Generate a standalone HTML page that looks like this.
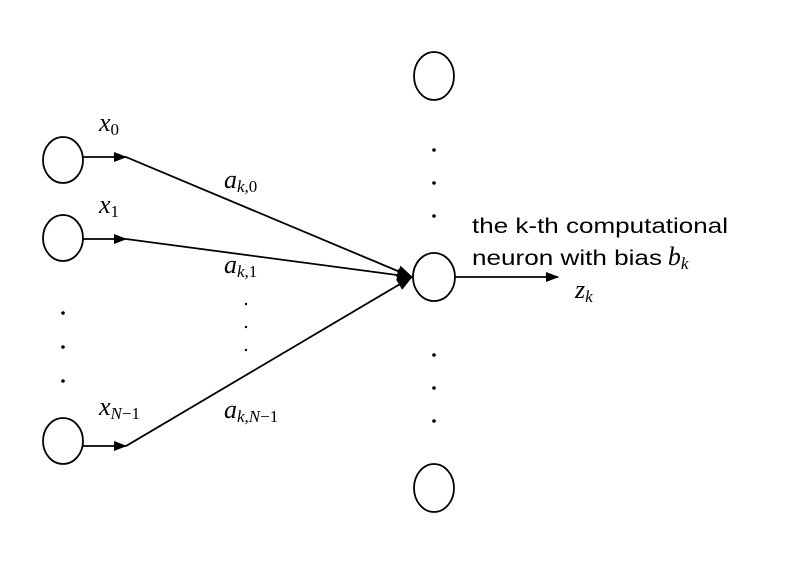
<!DOCTYPE html>
<html><head><style>body{margin:0;background:#fff}</style></head><body>
<svg width="785" height="557" viewBox="0 0 785 557" xmlns="http://www.w3.org/2000/svg">
<defs><marker id="ah" markerWidth="13" markerHeight="10" refX="12" refY="5" orient="auto" markerUnits="userSpaceOnUse"><path d="M0,0L13,5L0,10z" fill="#000"/></marker>
<marker id="ah2" markerWidth="16" markerHeight="12" refX="15" refY="6" orient="auto" markerUnits="userSpaceOnUse"><path d="M0,0L16,6L0,12z" fill="#000"/></marker></defs>
<g fill="none" stroke="#000" stroke-width="1.8">
<ellipse cx="63" cy="160" rx="20" ry="23"/>
<ellipse cx="63" cy="238" rx="20" ry="23"/>
<ellipse cx="63" cy="441" rx="20" ry="23"/>
<ellipse cx="434" cy="76" rx="20" ry="24"/>
<ellipse cx="434" cy="277" rx="21" ry="24"/>
<ellipse cx="434" cy="488" rx="20" ry="24"/>
<line x1="83" y1="157" x2="126" y2="157" marker-end="url(#ah)"/>
<line x1="83" y1="239" x2="126" y2="239" marker-end="url(#ah)"/>
<line x1="83" y1="446" x2="126" y2="446" marker-end="url(#ah)"/>
<line x1="126" y1="157" x2="412" y2="277" marker-end="url(#ah2)"/>
<line x1="126" y1="239" x2="412" y2="277" marker-end="url(#ah2)"/>
<line x1="126" y1="446" x2="412" y2="277" marker-end="url(#ah2)"/>
<line x1="455" y1="277" x2="558" y2="277" marker-end="url(#ah)"/>
</g>
<g fill="#000">
<circle cx="63" cy="313" r="1.8"/><circle cx="63" cy="347" r="1.8"/><circle cx="63" cy="381" r="1.8"/>
<circle cx="434" cy="150" r="1.8"/><circle cx="434" cy="183" r="1.8"/><circle cx="434" cy="216" r="1.8"/>
<circle cx="434" cy="355" r="1.8"/><circle cx="434" cy="388" r="1.8"/><circle cx="434" cy="421" r="1.8"/>
<circle cx="246" cy="304" r="1.2"/><circle cx="246" cy="327" r="1.2"/><circle cx="246" cy="350" r="1.2"/>
</g>
<g font-family="Liberation Serif, serif" font-style="italic" font-size="26" fill="#000">
<text x="99" y="131">x<tspan font-size="17" dy="4" font-style="normal">0</tspan></text>
<text x="99" y="213">x<tspan font-size="17" dy="4" font-style="normal">1</tspan></text>
<text x="99" y="415">x<tspan font-size="17" dy="4">N</tspan><tspan font-size="17" font-style="normal">−1</tspan></text>
<text x="224" y="188">a<tspan font-size="17" dy="4">k</tspan><tspan font-size="17" font-style="normal">,0</tspan></text>
<text x="224" y="273">a<tspan font-size="17" dy="4">k</tspan><tspan font-size="17" font-style="normal">,1</tspan></text>
<text x="224" y="418">a<tspan font-size="17" dy="4">k</tspan><tspan font-size="17">,N</tspan><tspan font-size="17" font-style="normal">−1</tspan></text>
<text x="575" y="298">z<tspan font-size="17" dy="4">k</tspan></text>
</g>
<g font-family="Liberation Sans, sans-serif" font-size="21" fill="#000">
<text x="472" y="233" textLength="256" lengthAdjust="spacingAndGlyphs">the k-th computational</text>
<text x="472" y="265"><tspan textLength="190" lengthAdjust="spacingAndGlyphs">neuron with bias</tspan> <tspan font-family="Liberation Serif, serif" font-style="italic" font-size="26">b</tspan><tspan font-family="Liberation Serif, serif" font-style="italic" font-size="17" dy="4">k</tspan></text>
</g>
</svg>
</body></html>
